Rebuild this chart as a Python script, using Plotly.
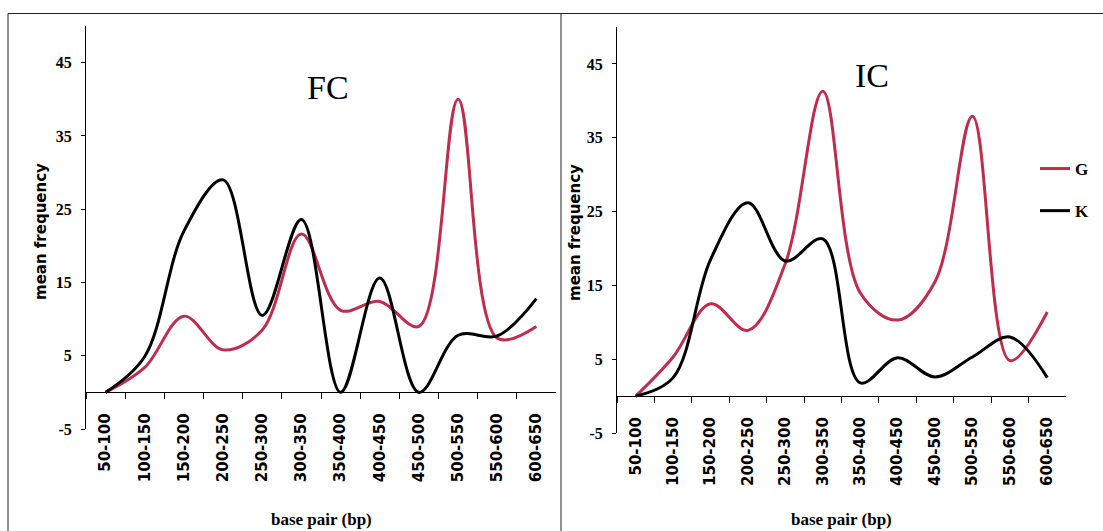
import plotly.graph_objects as go

# Fragment-size classes (base pairs)
categories = ["50-100", "100-150", "150-200", "200-250", "250-300", "300-350",
              "350-400", "400-450", "450-500", "500-550", "550-600", "600-650"]

# Mean frequency per size class, FC panel
fc_g = [0.0, 3.4, 10.4, 5.8, 8.5, 21.6, 11.2, 12.4, 9.0, 40.0, 7.4, 9.0]
fc_k = [0.0, 4.9, 22.0, 29.0, 10.5, 23.6, 0.0, 15.6, 0.0, 7.8, 7.7, 12.8]

# Mean frequency per size class, IC panel
ic_g = [0.0, 5.3, 12.5, 8.9, 18.0, 41.3, 14.0, 10.3, 15.5, 37.9, 4.8, 11.4]
ic_k = [0.0, 2.5, 18.5, 26.2, 18.3, 21.3, 1.8, 5.2, 2.6, 5.3, 8.0, 2.5]

y_ticks = [-5, 5, 15, 25, 35, 45]
y_tick_text = ["-5", "5", "15", "25", "35", "45"]

W, H = 1103, 531
RED = "#BE2D4E"
BLACK = "#000000"
SERIF = "Liberation Serif"


def fx(px):
    return px / W


def fy(py):
    return 1 - py / H


fig = go.Figure()

for xa, ya, g, k, show in [("x", "y", fc_g, fc_k, False),
                           ("x2", "y2", ic_g, ic_k, True)]:
    fig.add_trace(go.Scatter(
        x=categories, y=g, name="G", mode="lines", xaxis=xa, yaxis=ya,
        line=dict(color=RED, width=3, shape="spline", smoothing=1),
        showlegend=show, legendgroup="G"))
    fig.add_trace(go.Scatter(
        x=categories, y=k, name="K", mode="lines", xaxis=xa, yaxis=ya,
        line=dict(color=BLACK, width=3, shape="spline", smoothing=1),
        showlegend=show, legendgroup="K"))

tick_font_x = dict(family="DejaVu Sans", size=15, color="black", weight="bold")
tick_font_y = dict(family=SERIF, size=16, color="black", weight="bold")

# plot-area geometry (pixels) for each panel: left, right, top(50), bottom(-5)
panels = {
    "": (86, 556, 26, 429),
    "2": (617, 1066, 27, 433),
}

layout_axes = {}
for sfx, (l, r, t, b) in panels.items():
    y0 = b - (b - t) * 5 / 55  # pixel row of value 0
    layout_axes["xaxis" + sfx] = dict(
        domain=[fx(l), fx(r)], anchor="free", position=fy(y0),
        type="category", range=[-0.5, 11.5], tickson="boundaries",
        showline=True, linecolor="black", linewidth=1,
        ticks="outside", ticklen=6, tickcolor="black",
        tickangle=-90, tickfont=tick_font_x, ticklabelstandoff=14,
        showgrid=False, zeroline=False, automargin=False, fixedrange=True)
    layout_axes["yaxis" + sfx] = dict(
        domain=[fy(b), fy(t)], anchor="x" + sfx, range=[-5, 50],
        tickvals=y_ticks, ticktext=y_tick_text,
        showline=True, linecolor="black", linewidth=1,
        ticks="outside", ticklen=4, tickcolor="black", tickfont=tick_font_y,
        ticklabelstandoff=6,
        showgrid=False, zeroline=False, automargin=False, fixedrange=True)

fig.update_layout(**layout_axes)

annotations = []
for label, x, y in [("FC", 328, 88), ("IC", 872, 76)]:
    annotations.append(dict(text=label, x=fx(x), y=fy(y),
                            xref="paper", yref="paper", showarrow=False,
                            xanchor="center", yanchor="middle",
                            font=dict(family=SERIF, size=34, color="black")))
for x in [321, 841]:
    annotations.append(dict(text="base pair (bp)", x=fx(x), y=fy(519),
                            xref="paper", yref="paper", showarrow=False,
                            xanchor="center", yanchor="middle",
                            font=dict(family=SERIF, size=17,
                                      color="black", weight="bold")))
for x in [41, 575]:
    annotations.append(dict(text="mean frequency", x=fx(x), y=fy(232),
                            xref="paper", yref="paper", showarrow=False,
                            xanchor="center", yanchor="middle",
                            textangle=-90,
                            font=dict(family="DejaVu Sans", size=15,
                                      color="black", weight="bold")))

# panel frames
frame = dict(color="#222222", width=1)
shapes = [
    dict(type="line", xref="paper", yref="paper", x0=fx(8), x1=1.0,
         y0=fy(13.5), y1=fy(13.5), line=frame),
    dict(type="line", xref="paper", yref="paper", x0=fx(8), x1=fx(8),
         y0=fy(13.5), y1=0, line=frame),
    dict(type="line", xref="paper", yref="paper", x0=fx(561), x1=fx(561),
         y0=fy(13.5), y1=0, line=frame),
]

fig.update_layout(
    width=W, height=H, template="none",
    margin=dict(l=0, r=0, t=0, b=0, autoexpand=False),
    paper_bgcolor="white", plot_bgcolor="white",
    annotations=annotations, shapes=shapes,
    showlegend=True,
    legend=dict(x=fx(1035), y=fy(151), xanchor="left", yanchor="top",
                bgcolor="rgba(0,0,0,0)", borderwidth=0,
                traceorder="grouped", tracegroupgap=17,
                font=dict(family=SERIF, size=17,
                          color="black", weight="bold"),
                itemwidth=30),
)

fig.write_html("out.html")
